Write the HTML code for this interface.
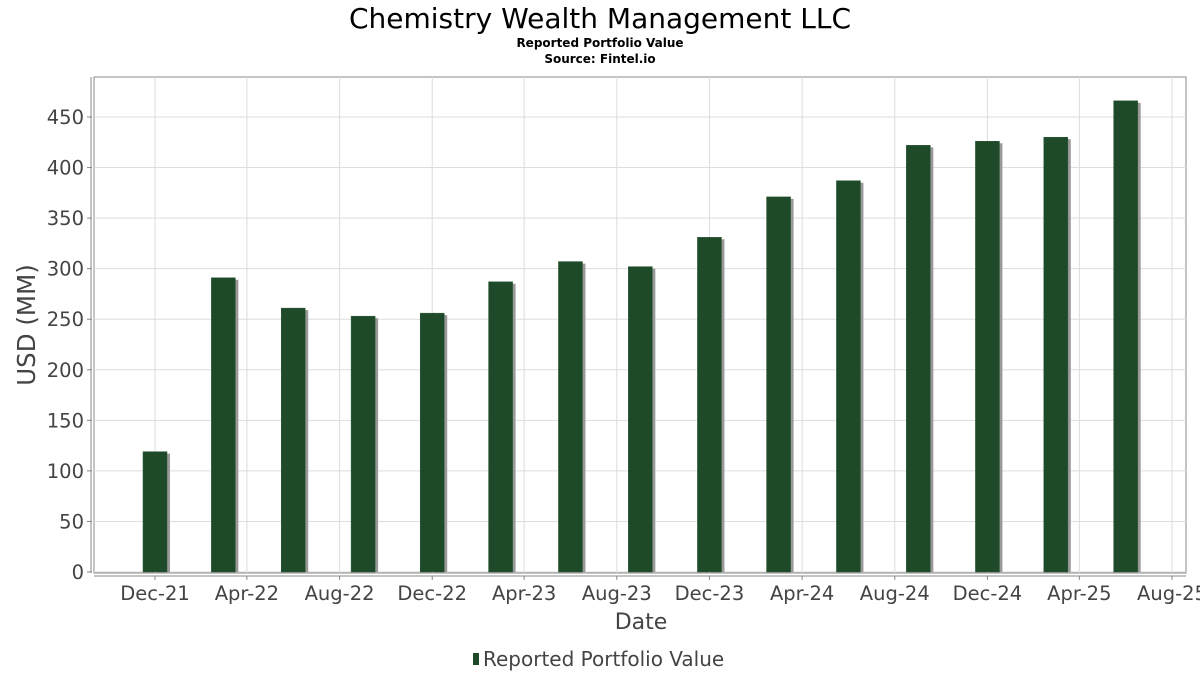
<!DOCTYPE html>
<html><head><meta charset="utf-8"><style>
body{margin:0;background:#fff;font-family:"DejaVu Sans","Liberation Sans",sans-serif;}
</style></head><body>
<svg id="chart" width="1200" height="675" xmlns="http://www.w3.org/2000/svg">
<text x="600" y="28" text-anchor="middle" font-size="28" fill="#000">Chemistry Wealth Management LLC</text>
<text x="600" y="47" text-anchor="middle" font-size="12" font-weight="bold" fill="#000">Reported Portfolio Value</text>
<text x="600" y="63" text-anchor="middle" font-size="12" font-weight="bold" fill="#000">Source: Fintel.io</text>
<rect x="94" y="77" width="1092" height="496" fill="#fff" stroke="#888"/>
<g id="grid"></g><g id="bars"></g><g id="axes"></g>
<text transform="translate(35,325) rotate(-90)" text-anchor="middle" font-size="24.5" fill="#444">USD (MM)</text>
<text x="641" y="629" text-anchor="middle" font-size="22" fill="#444">Date</text>
<g>
<rect x="473" y="653" width="6" height="12" fill="#1e4a2a"/>
<text x="483" y="666" font-size="20" fill="#444">Reported Portfolio Value</text>
</g>
</svg>
<script>
const dates=["2021-12-01","2022-03-01","2022-06-01","2022-09-01","2022-12-01","2023-03-01","2023-06-01","2023-09-01","2023-12-01","2024-03-01","2024-06-01","2024-09-01","2024-12-01","2025-03-01","2025-06-01"];
const values=[119,291,261,253,256,287,307,302,331,371,387,422,426,430,466];
const yTicks=[0,50,100,150,200,250,300,350,400,450];
const xTickLabels=["Dec-21","Apr-22","Aug-22","Dec-22","Apr-23","Aug-23","Dec-23","Apr-24","Aug-24","Dec-24","Apr-25","Aug-25"];
const xTickDates=["2021-12-01","2022-04-01","2022-08-01","2022-12-01","2023-04-01","2023-08-01","2023-12-01","2024-04-01","2024-08-01","2024-12-01","2025-04-01","2025-08-01"];
const NS="http://www.w3.org/2000/svg";
const t0=Date.parse("2021-12-01"),t1=Date.parse("2025-08-01");
function x(d){return 155+(Date.parse(d)-t0)/(t1-t0)*(1172-155);}
function y(v){return 572-v*(572-117)/450;}
function mk(tag,attrs,parent){const e=document.createElementNS(NS,tag);for(const k in attrs)e.setAttribute(k,attrs[k]);document.getElementById(parent).appendChild(e);return e;}
yTicks.forEach(v=>{
 const g=mk("line",{x1:94,x2:1186,y1:y(v),y2:y(v),stroke:"#ddd"},"grid");
 
 
 const tk=mk("line",{x1:87,x2:92,y1:y(v),y2:y(v),stroke:"#888"},"axes");
 
 
 const t=mk("text",{x:84,y:y(v)+7,"text-anchor":"end","font-size":19.5,fill:"#444"},"axes");
 t.textContent=v;
 
 
});
xTickDates.forEach((d,i)=>{
 const g=mk("line",{x1:x(d),x2:x(d),y1:77,y2:573,stroke:"#ddd"},"grid");
 
 
 const tk=mk("line",{x1:x(d),x2:x(d),y1:576,y2:580,stroke:"#888"},"axes");
 
 
 const t=mk("text",{x:x(d),y:600,"text-anchor":"middle","font-size":19.5,fill:"#444"},"axes");
 t.textContent=xTickLabels[i];
 
 
});
const ax=mk("line",{x1:94,x2:1186,y1:576,y2:576,stroke:"#888"},"axes");


const ay=mk("line",{x1:91,x2:91,y1:77,y2:573,stroke:"#888"},"axes");


dates.forEach((d,i)=>{
 const cx=x(d),top=y(values[i]);
 const s=mk("rect",{x:cx-12+3,y:top+2,width:24,height:572-top-2,fill:"#999"},"bars");
 
 
 const b=mk("rect",{x:cx-12,y:top,width:24,height:572-top,fill:"#1e4a2a",stroke:"#2c5a36","stroke-width":0.5},"bars");
 
 
});
</script>
</body></html>
